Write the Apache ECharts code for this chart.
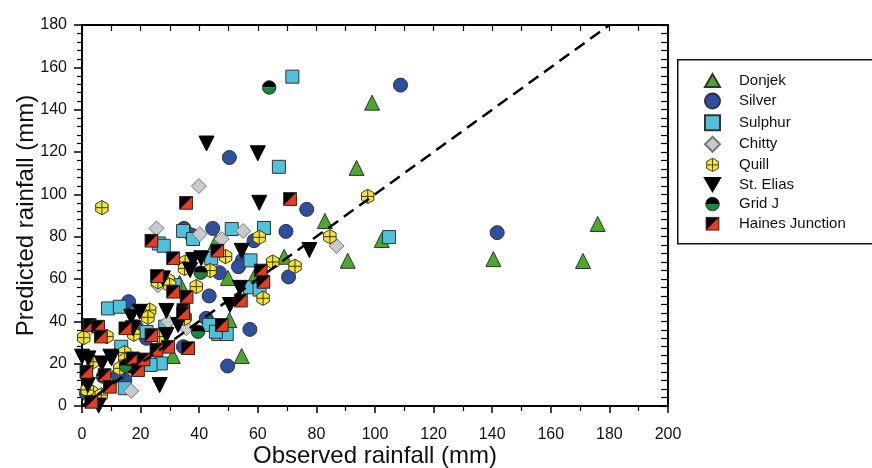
<!DOCTYPE html>
<html>
<head>
<meta charset="utf-8">
<script src="https://cdn.jsdelivr.net/npm/echarts@6/dist/echarts.min.js"></script>
<style>
  html, body { margin: 0; padding: 0; background: #fff; }
  #chart { width: 872px; height: 468px; }
</style>
</head>
<body>
<div id="chart"></div>
<script>
// observed vs predicted rainfall (mm), one array per station
const donjek = [[176,86],[171,68.5],[140.4,69.4],[102.3,78.4],[99,143.3],[93.7,112.5],[90.7,68.6],[82.9,87.4],
  [69,70.5],[58.6,60.5],[49.8,60.5],[45.7,77.5],[50.3,40.6],[54.5,23.6],[33.3,58.2],[31,23.6]]
const silver = [[108.7,151.6],[141.7,81.9],[76.7,92.9],[69.6,82.5],[70.5,61],[50.3,117.4],[44.6,83.9],[58.7,78.1],
  [54.8,69],[53.4,65.8],[46.9,63],[43.4,52],[57.3,36.2],[49.7,18.9],[34.8,83.9],[37.3,80.8],[15.9,49.3],[22,32],
  [34.6,28],[14.6,12.3],[12.3,14.6],[1.5,6],[18.5,37.5],[42.4,41.4]]
const sulphur = [[71.8,155.6],[67.2,113],[104.8,79.8],[62.1,84.1],[51.1,83.6],[34.5,82.7],[37.9,78.9],[26.2,76.8],
  [27.9,75.7],[44.1,69.8],[57.5,68.8],[31.6,57.1],[57.3,56.1],[60.6,55],[8.9,46.1],[12.9,46.9],[43.4,38.3],
  [46.5,34],[49.4,34],[45.7,35.1],[28.4,37.5],[13.4,28],[26.9,20.1],[23.4,19.4],[14.6,8.4],[22,35]]
const chitty = [[39.9,103.9],[25.4,83.9],[40.2,81.2],[47.7,78.9],[55,82.7],[86.9,75.6],[25.9,57],[29.4,39.8],
  [35.6,36.7],[16.8,7.1]]
const quill = [[6.8,93.7],[97.5,99],[84.6,80],[60.5,79.7],[49,70.6],[43.7,64],[35.2,68],[35,65],[39,56.4],[35.2,42],
  [65.1,68],[72.7,66],[61.8,50.9],[29.4,59.5],[25.9,58.7],[29.9,57.1],[23.1,45.3],[22.5,41.9],[35,41.4],[0.6,32.3],
  [8.5,32.8],[17.7,33.9],[26.5,32.8],[14.6,25.2],[14.6,21.7],[12.9,17.8],[3.8,20.9],[3.2,6.8],[6.6,5.2],[1.8,7.6]]
const stElias = [[42.5,124],[60,119.4],[60.5,96],[77.6,73.7],[54.5,73.3],[37.9,69],[40.7,69.8],[36.9,64.2],
  [27.6,60.3],[53.9,55.8],[50.5,47.7],[28.8,44.9],[19.7,44.5],[16.8,42.2],[17.4,36.7],[32.8,38.3],[28.8,33.5],
  [9.7,23.3],[0,23.3],[2.2,22.5],[6.8,20.1],[16.8,18.6],[10.1,22.5],[26.5,9.9],[2,9.9],[5.7,0.2]]
const gridJ = [[63.9,150.5],[40.5,63],[39.6,35.1],[7.2,13.9],[15,19]]
const haines = [[71,97.8],[35.5,96],[23.7,78.1],[31.1,69.8],[46.2,73.4],[25.6,61.4],[61,64],[61.9,58.7],[54.2,49.8],
  [35.7,51.6],[34.6,45.3],[31.1,54],[34.5,43.8],[47.7,38.3],[2.6,38.3],[5.5,37.5],[6.4,32.8],[14.8,36.7],[23.7,33.5],
  [36.2,27.3],[17.4,22.5],[19.1,17],[1.5,16.2],[7.7,14.6],[9.5,9.1],[3.2,2],[29.4,28],[25.4,26.5],[21,22]]
const oneToOne = [[0,0],[180,180]]

const FONT = '"Liberation Sans", Arial, Helvetica, sans-serif'

function svgIcon(body) {
  const svg = '<svg xmlns="http://www.w3.org/2000/svg" width="40" height="40" viewBox="0 0 20 20">' + body + '</svg>'
  return 'image://data:image/svg+xml;charset=utf-8,' + encodeURIComponent(svg)
}

const quillIcon = svgIcon(
  '<polygon points="10,1 17.8,5.5 17.8,14.5 10,19 2.2,14.5 2.2,5.5" fill="#f6e521" stroke="#333" stroke-width="1.2"/>' +
  '<line x1="10" y1="1.5" x2="10" y2="18.5" stroke="#333" stroke-width="1.2"/>' +
  '<line x1="2.5" y1="10" x2="17.5" y2="10" stroke="#333" stroke-width="1.2"/>')
const gridIcon = svgIcon(
  '<path d="M1,10 A9,9 0 0 1 19,10 Z" fill="#000"/>' +
  '<path d="M1,10 A9,9 0 0 0 19,10 Z" fill="#16893a"/>' +
  '<circle cx="10" cy="10" r="9" fill="none" stroke="#222" stroke-width="1.2"/>')
const hainesIcon = svgIcon(
  '<rect x="1.5" y="1.5" width="17" height="17" fill="#000"/>' +
  '<polygon points="18.5,1.5 18.5,18.5 1.5,18.5" fill="#ea3a1f"/>' +
  '<rect x="1.5" y="1.5" width="17" height="17" fill="none" stroke="#222" stroke-width="1.2"/>')

function pts(name, data, symbol, color, size, border) {
  return {
    name, type: 'scatter', data, symbol, symbolSize: size,
    itemStyle: { color, borderColor: border || '#333', borderWidth: 1, opacity: 1 }
  }
}

const chart = echarts.init(document.getElementById('chart'))

chart.setOption({
  animation: false,
  backgroundColor: '#fff',
  textStyle: { fontFamily: FONT },
  grid: { left: 82, right: 204, top: 25, bottom: 62, outerBoundsMode: 'none', containLabel: false },
  graphic: [{
    type: 'rect', left: 677, top: 59, z: 0,
    shape: { width: 210, height: 184 },
    style: { fill: '#fff', stroke: '#111', lineWidth: 1.5 }
  }],
  legend: {
    orient: 'vertical', left: 699, top: 68,
    itemWidth: 15, itemHeight: 15, itemGap: 4.6,
    textStyle: { fontSize: 15, color: '#111', fontFamily: FONT, padding: [0, 0, 0, 14] },
    data: ['Donjek', 'Silver', 'Sulphur', 'Chitty', 'Quill', 'St. Elias', 'Grid J', 'Haines Junction']
  },
  xAxis: [{
    type: 'value', min: 0, max: 200, interval: 20, position: 'bottom',
    name: 'Observed rainfall (mm)', nameLocation: 'middle', nameGap: 38, nameMoveOverlap: false,
    nameTextStyle: { fontSize: 24, color: '#111', fontFamily: FONT },
    axisLine: { onZero: false, lineStyle: { color: '#000', width: 2 } },
    axisTick: { length: 7, lineStyle: { color: '#000', width: 1.5 } },
    minorTick: { show: true, splitNumber: 2, length: 5, lineStyle: { color: '#000', width: 1.2 } },
    axisLabel: { fontSize: 16, color: '#111', margin: 21, fontFamily: FONT },
    splitLine: { show: false }
  }, {
    type: 'value', min: 0, max: 200, interval: 10, position: 'top',
    axisLine: { onZero: false, lineStyle: { color: '#000', width: 2 } },
    axisTick: { inside: true, length: 6, lineStyle: { color: '#000', width: 1.2 } },
    axisLabel: { show: false },
    splitLine: { show: false }
  }],
  yAxis: [{
    type: 'value', min: 0, max: 180, interval: 20, position: 'left',
    name: 'Predicted rainfall (mm)', nameLocation: 'middle', nameGap: 44, nameMoveOverlap: false,
    nameTextStyle: { fontSize: 24, color: '#111', fontFamily: FONT },
    axisLine: { onZero: false, lineStyle: { color: '#000', width: 2 } },
    axisTick: { length: 8, lineStyle: { color: '#000', width: 1.5 } },
    minorTick: { show: true, splitNumber: 5, length: 5, lineStyle: { color: '#000', width: 1.2 } },
    axisLabel: { fontSize: 16, color: '#111', margin: 15, fontFamily: FONT },
    splitLine: { show: false }
  }, {
    type: 'value', min: 0, max: 180, interval: 4, position: 'right',
    axisLine: { onZero: false, lineStyle: { color: '#000', width: 2 } },
    axisTick: { inside: true, length: 7, lineStyle: { color: '#000', width: 1.2 } },
    axisLabel: { show: false },
    splitLine: { show: false }
  }],
  series: [
    pts('Donjek', donjek, 'path://M1,0 L2,1.73 L0,1.73 Z', '#4aa82b', 15),
    pts('Silver', silver, 'circle', '#2d4f9f', 14),
    pts('Sulphur', sulphur, 'rect', '#4fc1da', 13),
    pts('Chitty', chitty, 'diamond', '#c9c9c9', 15, '#777'),
    pts('Quill', quill, quillIcon, '#f6e521', 16),
    pts('St. Elias', stElias, 'path://M0,0 L2,0 L1,1.73 Z', '#000', 15, '#000'),
    pts('Grid J', gridJ, gridIcon, '#16893a', 15),
    pts('Haines Junction', haines, hainesIcon, '#ea3a1f', 15),
    {
      name: '1:1', type: 'line', data: oneToOne, symbol: 'none', z: 5,
      lineStyle: { color: '#000', width: 2.5, type: [12, 7] }
    }
  ]
})
</script>
</body>
</html>
